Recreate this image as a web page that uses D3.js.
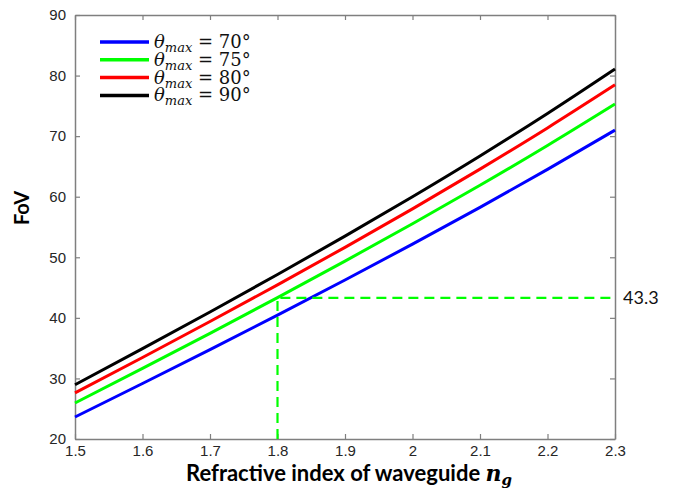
<!DOCTYPE html>
<html>
<head>
<meta charset="utf-8">
<script src="https://cdn.jsdelivr.net/npm/d3@7"></script>
<style>
  body { margin: 0; background: #fff; }
  svg { display: block; }
</style>
</head>
<body>
<script>
// FoV vs refractive index, one curve per max TIR angle

var nValues = [1.5, 1.6, 1.7, 1.8, 1.9, 2.0, 2.1, 2.2, 2.3];
var fov70 = [23.63, 29.16, 34.76, 40.45, 46.25, 52.17, 58.24, 64.51, 70.99];
var fov75 = [25.94, 31.65, 37.45, 43.35, 49.37, 55.54, 61.89, 68.46, 75.30];
var fov80 = [27.61, 33.46, 39.40, 45.45, 51.64, 58.00, 64.56, 71.36, 78.47];
var fov90 = [28.96, 34.92, 40.97, 47.16, 53.49, 60.00, 66.73, 73.74, 81.08];
var seriesNames = ["70", "75", "80", "90"];
var seriesColors = ["#0000ff", "#00ff00", "#ff0000", "#000000"];
var xTicks = [1.5, 1.6, 1.7, 1.8, 1.9, 2, 2.1, 2.2, 2.3];
var yTicks = [20, 30, 40, 50, 60, 70, 80, 90];
var markN = 1.8;
var markFov = 43.3;

var svgWidth = 681, svgHeight = 488;
var margin = { top: 15, right: 66, bottom: 49, left: 75 };
var width = svgWidth - margin.left - margin.right;
var height = svgHeight - margin.top - margin.bottom;

var svg = d3.select("body").append("svg")
  .attr("width", svgWidth)
  .attr("height", svgHeight);

var chartGroup = svg.append("g")
  .attr("transform", `translate(${margin.left}, ${margin.top})`);

var xScale = d3.scaleLinear().domain([1.5, 2.3]).range([0, width]);
var yScale = d3.scaleLinear().domain([20, 90]).range([height, 0]);

var axisColor = "#7f7f7f";
var tickFont = "'Liberation Sans', Arial, sans-serif";

// axes with inward ticks, box mirrored
function styleAxis(g) {
  g.select(".domain").attr("stroke", axisColor).attr("stroke-width", 1.5);
  g.selectAll(".tick line").attr("stroke", axisColor).attr("stroke-width", 1.2);
  g.selectAll(".tick text").attr("fill", "#262626")
    .style("font-family", tickFont).style("font-size", "15px");
}

chartGroup.append("g")
  .attr("transform", `translate(0, ${height})`)
  .call(d3.axisBottom(xScale).tickValues(xTicks).tickSize(-5).tickPadding(6)
    .tickFormat(d => d3.format("")(+d.toFixed(1))).tickSizeOuter(0))
  .call(styleAxis);

chartGroup.append("g")
  .call(d3.axisLeft(yScale).tickValues(yTicks).tickSize(-5).tickPadding(9).tickSizeOuter(0))
  .call(styleAxis);

chartGroup.append("g")
  .call(d3.axisTop(xScale).tickValues(xTicks).tickSize(-5).tickFormat("").tickSizeOuter(0))
  .call(styleAxis);

chartGroup.append("g")
  .attr("transform", `translate(${width}, 0)`)
  .call(d3.axisRight(yScale).tickValues(yTicks).tickSize(-5).tickFormat("").tickSizeOuter(0))
  .call(styleAxis);

// curves
var allSeries = [fov70, fov75, fov80, fov90];
var line = d3.line()
  .x((d, i) => xScale(nValues[i]))
  .y(d => yScale(d))
  .curve(d3.curveMonotoneX);

chartGroup.selectAll(".curve")
  .data(allSeries)
  .enter()
  .append("path")
  .attr("class", "curve")
  .attr("d", d => line(d))
  .attr("fill", "none")
  .attr("stroke", (d, i) => seriesColors[i])
  .attr("stroke-width", 3);

// dashed guide at n = 1.8
var guide = [[markN, 20], [markN, markFov], [2.3, markFov]];
chartGroup.append("path")
  .attr("d", d3.line().x(d => xScale(d[0])).y(d => yScale(d[1]))(guide))
  .attr("fill", "none")
  .attr("stroke", "#00ff00")
  .attr("stroke-width", 2.2)
  .attr("stroke-dasharray", "10,6");

chartGroup.append("text")
  .attr("x", width + 8)
  .attr("y", yScale(markFov) + 6)
  .style("font-family", "Lato, 'Open Sans', sans-serif")
  .style("font-size", "18px")
  .attr("fill", "#111")
  .text(markFov);

// legend
var legend = chartGroup.selectAll(".legend")
  .data(seriesNames)
  .enter()
  .append("g")
  .attr("class", "legend")
  .attr("transform", (d, i) => `translate(25, ${27 + i * 17.8})`);

legend.append("line")
  .attr("x1", 0).attr("x2", 49)
  .attr("stroke", (d, i) => seriesColors[i])
  .attr("stroke-width", 3.5);

var legText = legend.append("text")
  .attr("x", 54)
  .attr("y", 6)
  .style("font-family", "'DejaVu Serif', 'Liberation Serif', serif")
  .style("font-size", "18px")
  .attr("fill", "#111");
legText.append("tspan").style("font-style", "italic").text("θ");
legText.append("tspan").style("font-style", "italic").style("font-size", "13px")
  .attr("dy", 4).text("max");
legText.append("tspan").attr("dy", -4).text(d => " = " + d + "°");

// axis titles
svg.append("text")
  .attr("transform", `translate(29, 208) rotate(-90)`)
  .attr("text-anchor", "middle")
  .style("font-family", "Lato, sans-serif")
  .style("font-weight", "bold")
  .style("font-size", "20px")
  .text("FoV");

var xLabel = svg.append("text")
  .attr("x", 349)
  .attr("y", 481)
  .attr("text-anchor", "middle")
  .style("font-family", "Lato, sans-serif")
  .style("font-weight", "bold")
  .style("font-size", "22px");
xLabel.append("tspan").text("Refractive index of waveguide ");
xLabel.append("tspan")
  .style("font-family", "'DejaVu Serif', 'Liberation Serif', serif")
  .style("font-style", "italic").style("font-weight", "bold").text("n");
xLabel.append("tspan")
  .style("font-family", "'DejaVu Serif', 'Liberation Serif', serif")
  .style("font-style", "italic").style("font-weight", "bold")
  .style("font-size", "15px").attr("dy", 4).text("g");
</script>
</body>
</html>
